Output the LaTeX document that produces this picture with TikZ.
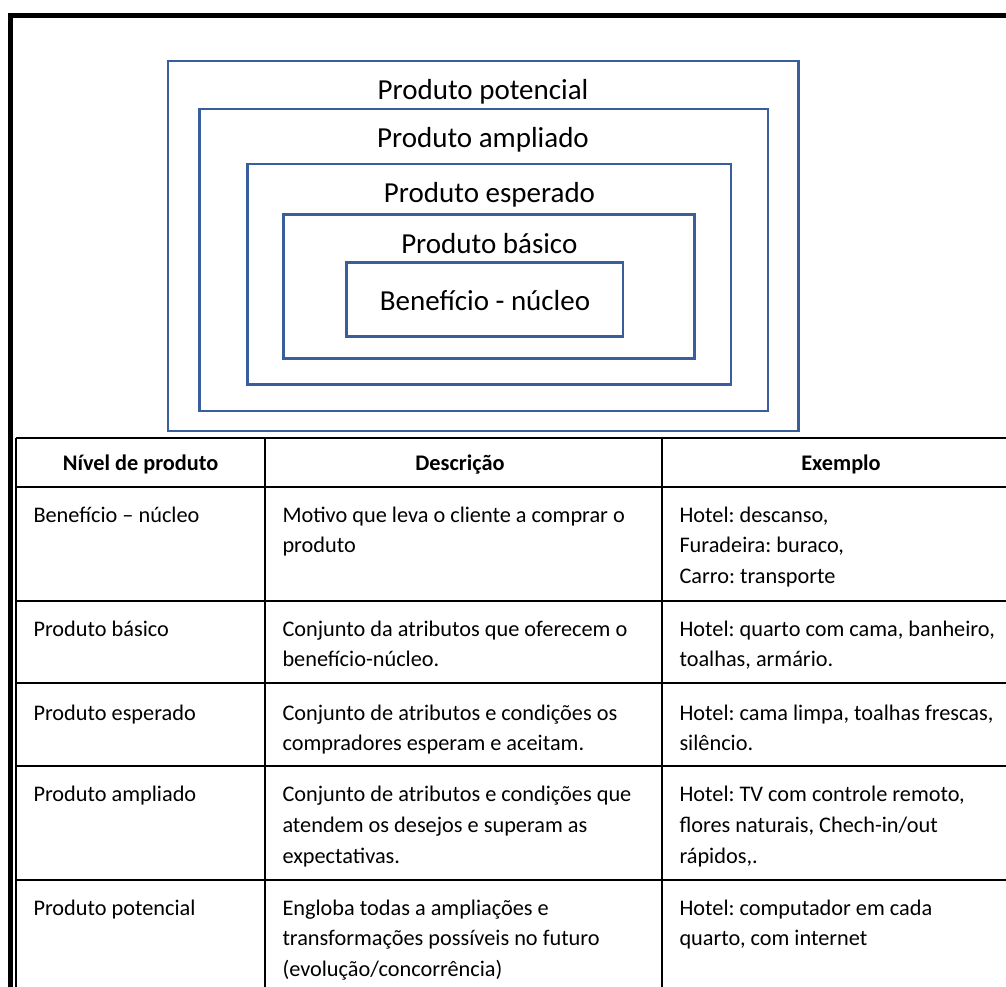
\documentclass[tikz,border=0pt]{standalone}
\usepackage{fontspec}
\setmainfont{Carlito}
\frenchspacing
\definecolor{boxblue}{RGB}{58,93,155}
\newcommand\cellstrut{\rule{0pt}{20pt}}
\begin{document}
\begin{tikzpicture}[x=1pt,y=-1pt,
  bluebox/.style={draw=boxblue,line width=2.6pt,inner sep=0pt},
  boxlabel/.style={font=\fontsize{29}{35}\selectfont,anchor=base,inner sep=0pt},
  tline/.style={draw=black,line width=1.7pt},
  frame/.style={draw=black,line width=5.5pt},
  cell/.style={font=\fontsize{22.3}{30.7}\selectfont,align=left,anchor=north west,inner sep=0pt},
  head/.style={font=\fontsize{22.3}{30.7}\selectfont\bfseries,anchor=base,inner sep=0pt}]
\useasboundingbox (0,0) rectangle (1006,986);
\begin{scope}
\clip (0,0) rectangle (1006,986);
% outer frame
\coordinate (fbl) at (10.5,1000);
\coordinate (ftl) at (10.5,15.5);
\coordinate (ftr) at (1020,15.5);
\draw[frame] (fbl) -- (ftl) -- (ftr);
% nested boxes
\node[bluebox,minimum width=630.7pt,minimum height=370pt] (b1) at (483.35,246) {};
\node[bluebox,minimum width=568.7pt,minimum height=302pt] (b2) at (483.65,260) {};
\node[bluebox,minimum width=483.7pt,minimum height=220.5pt] (b3) at (489.15,274.25) {};
\node[bluebox,minimum width=411.4pt,minimum height=144pt] (b4) at (489,286.3) {};
\node[bluebox,minimum width=276.3pt,minimum height=74.4pt] (b5) at (484.85,299.5) {};
\node[boxlabel] (l1) at (483,99.3) {Produto potencial};
\node[boxlabel] (l2) at (483,147) {Produto ampliado};
\node[boxlabel] (l3) at (489.5,202) {Produto esperado};
\node[boxlabel] (l4) at (489.3,253) {Produto básico};
\node[boxlabel] (l5) at (485,310) {Benefício - núcleo};
% table grid
\draw[tline] (16,438) -- (1020,438);
\draw[tline] (16,486.7) -- (1020,486.7);
\draw[tline] (16,601) -- (1020,601);
\draw[tline] (16,683.3) -- (1020,683.3);
\draw[tline] (16,765.7) -- (1020,765.7);
\draw[tline] (16,880) -- (1020,880);
\draw[tline] (16,438) -- (16,1000);
\draw[tline] (265.3,438) -- (265.3,1000);
\draw[tline] (662.3,438) -- (662.3,1000);
% header
\node[head] (h1) at (140.6,470) {Nível de produto};
\node[head] (h2) at (460,470) {Descrição};
\node[head] (h3) at (841,470) {Exemplo};
% row 1
\node[cell] (r1a) at (33.3,502) {\cellstrut Benefício – núcleo};
\node[cell] (r1b) at (282.3,502) {\cellstrut Motivo que leva o cliente a comprar o\\produto};
\node[cell] (r1c) at (679.3,502) {\cellstrut Hotel: descanso,\\Furadeira: buraco,\\Carro: transporte};
% row 2
\node[cell] (r2a) at (33.3,616) {\cellstrut Produto básico};
\node[cell] (r2b) at (282.3,616) {\cellstrut Conjunto da atributos que oferecem o\\benefício-núcleo.};
\node[cell] (r2c) at (679.3,616) {\cellstrut Hotel: quarto com cama, banheiro,\\toalhas, armário.};
% row 3
\node[cell] (r3a) at (33.3,700) {\cellstrut Produto esperado};
\node[cell] (r3b) at (282.3,700) {\cellstrut Conjunto de atributos e condições os\\compradores esperam e aceitam.};
\node[cell] (r3c) at (679.3,700) {\cellstrut Hotel: cama limpa, toalhas frescas,\\silêncio.};
% row 4
\node[cell] (r4a) at (33.3,781.7) {\cellstrut Produto ampliado};
\node[cell] (r4b) at (282.3,781.7) {\cellstrut Conjunto de atributos e condições que\\atendem os desejos e superam as\\expectativas.};
\node[cell] (r4c) at (679.3,781.7) {\cellstrut Hotel: TV com controle remoto,\\flores naturais, Chech-in/out\\rápidos,.};
% row 5
\node[cell] (r5a) at (33.3,895) {\cellstrut Produto potencial};
\node[cell] (r5b) at (282.3,895) {\cellstrut Engloba todas a ampliações e\\transformações possíveis no futuro\\(evolução/concorrência)};
\node[cell] (r5c) at (679.3,895) {\cellstrut Hotel: computador em cada\\quarto, com internet};
\end{scope}
\end{tikzpicture}
\end{document}
